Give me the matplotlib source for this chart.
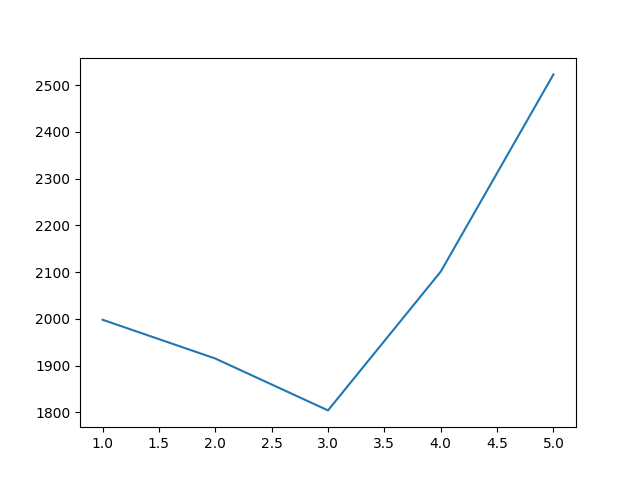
import matplotlib
matplotlib.use("Agg")
import matplotlib.pyplot as plt

x_values = [1, 2, 3, 4, 5]
y_values = [1998, 1915, 1804, 2101, 2523]

fig = plt.figure(figsize=(6.4, 4.8), dpi=100)
plt.plot(x_values, y_values)
plt.savefig("out.png")
